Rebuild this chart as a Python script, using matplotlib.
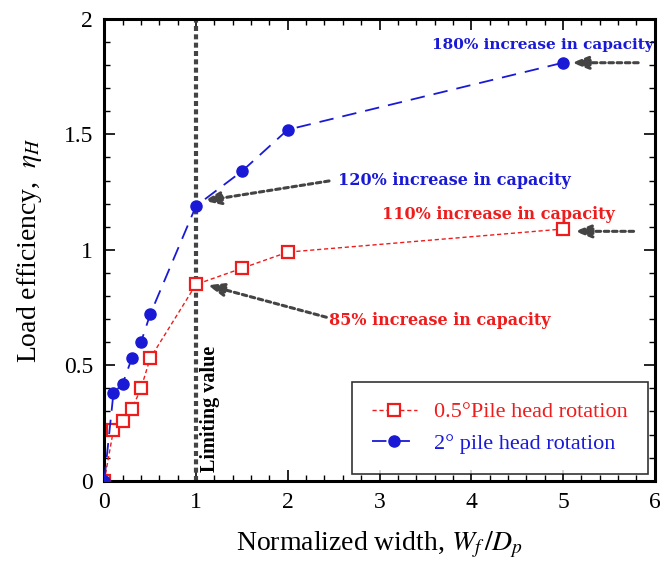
import matplotlib.pyplot as plt
from matplotlib.ticker import MultipleLocator

# data
width_ratio = [0, 0.1, 0.2, 0.3, 0.4, 0.5, 1.0, 1.5, 2.0, 5.0]
eta_half_deg = [0, 0.22, 0.26, 0.31, 0.40, 0.53, 0.85, 0.92, 0.99, 1.09]
eta_two_deg = [0, 0.38, 0.42, 0.53, 0.60, 0.72, 1.19, 1.34, 1.52, 1.81]
limit_x = 1.0

plt.rcParams['font.family'] = ['Liberation Serif', 'DejaVu Serif']
plt.rcParams['mathtext.fontset'] = 'stix'

red = '#ee1c1c'
blue = '#1a1ad6'
grey = '#444444'

fig = plt.figure(figsize=(6.6, 5.71), dpi=100)
ax = fig.add_axes([0.158, 0.158, 0.834, 0.809])

ax.plot(width_ratio, eta_half_deg, color=red, ls=(0, (3, 2)), lw=1.0,
        marker='s', ms=8, mfc='white', mec=red, mew=1.6,
        label='0.5°Pile head rotation', zorder=3)
ax.plot(width_ratio, eta_two_deg, color=blue, ls=(0, (8, 5)), lw=1.3,
        marker='o', ms=8, mfc=blue, mec=blue,
        label='2° pile head rotation', zorder=3)

# limiting value line
ax.axvline(limit_x, color=grey, ls=(0, (1.2, 0.8)), lw=3, zorder=2)
ax.text(1.15, 0.04, 'Limiting value', rotation=90, fontsize=14.5, fontweight='bold',
        ha='center', va='bottom', color='black')

arrow = dict(arrowstyle='-|>,head_length=1.0,head_width=0.4', color=grey,
             ls=(0, (1.5, 1.2)), lw=2.2)
ax.annotate('', xy=(5.07, 1.81), xytext=(5.85, 1.81), arrowprops=arrow)
ax.annotate('', xy=(1.06, 1.21), xytext=(2.48, 1.30), arrowprops=arrow)
ax.annotate('', xy=(5.1, 1.08), xytext=(5.8, 1.08), arrowprops=arrow)
ax.annotate('', xy=(1.1, 0.85), xytext=(2.45, 0.705), arrowprops=arrow)

note = dict(fontsize=11.5, fontweight='bold', va='center', family='DejaVu Serif')
ax.text(3.57, 1.885, '180% increase in capacity', color=blue, clip_on=False,
        **{**note, 'fontsize': 11})
ax.text(2.55, 1.30, '120% increase in capacity', color=blue, **note)
ax.text(3.03, 1.155, '110% increase in capacity', color=red, **note)
ax.text(2.45, 0.695, '85% increase in capacity', color=red, **note)

ax.set_xlim(0, 6)
ax.set_ylim(0, 2)
ax.xaxis.set_major_locator(MultipleLocator(1))
ax.xaxis.set_minor_locator(MultipleLocator(0.2))
ax.yaxis.set_major_locator(MultipleLocator(0.5))
ax.yaxis.set_minor_locator(MultipleLocator(0.1))
ax.set_yticks([0, 0.5, 1, 1.5, 2])
ax.set_yticklabels(['0', '0.5', '1', '1.5', '2'])
ax.tick_params(which='both', direction='in', top=True, right=True, labelsize=17)
ax.tick_params(which='major', length=8, width=1.2, pad=8)
ax.tick_params(which='minor', length=4, width=1.0)
for s in ax.spines.values():
    s.set_linewidth(2.2)

ax.set_xlabel('Normalized width, $W_f\\,/D_p$', fontsize=20, labelpad=12)
ax.set_ylabel('Load efficiency,  $\\eta_H$', fontsize=20, labelpad=14)

leg = ax.legend(loc='lower right', fontsize=16, frameon=True, fancybox=False,
                edgecolor='black', handlelength=2.0, borderpad=0.9,
                borderaxespad=0.3, bbox_to_anchor=(1.0, 0.0))
leg.get_frame().set_linewidth(1.2)
for t, c in zip(leg.get_texts(), [red, blue]):
    t.set_color(c)

fig.savefig('out.png', dpi=100)
